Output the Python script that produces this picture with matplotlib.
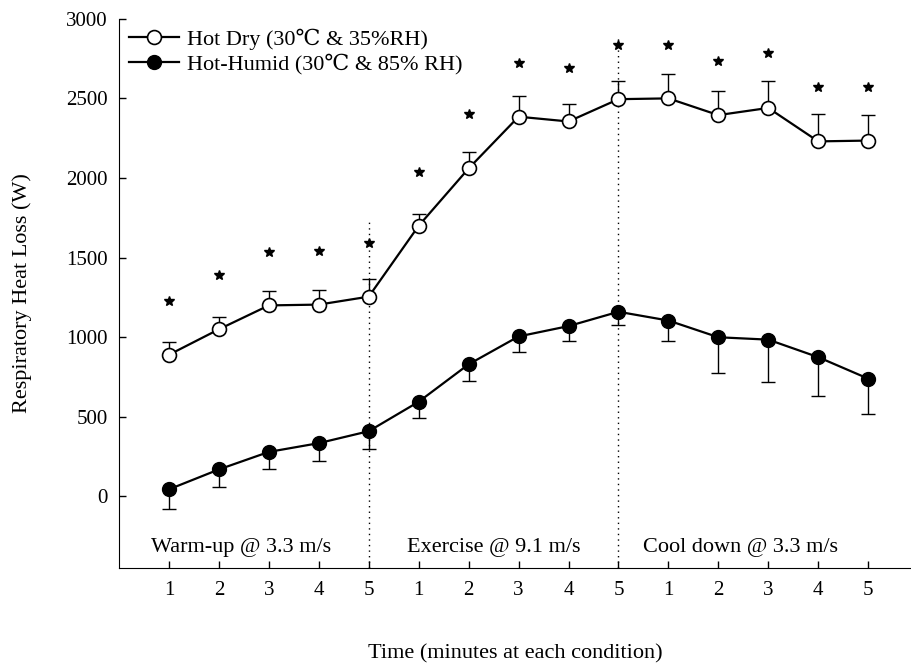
import numpy as np
import matplotlib.pyplot as plt

plt.rcParams['font.family'] = ['Liberation Serif', 'DejaVu Serif']

# Data
tick_labels = ['1', '2', '3', '4', '5'] * 3
hot_dry = [890, 1050, 1200, 1205, 1255, 1700, 2060, 2385, 2355, 2495,
           2500, 2395, 2440, 2230, 2235]
hot_dry_err = [80, 75, 90, 90, 110, 75, 105, 130, 110, 115,
               150, 150, 170, 175, 160]
hot_humid = [45, 170, 280, 335, 410, 595, 830, 1005, 1070, 1160,
             1105, 1000, 985, 875, 740]
hot_humid_err = [125, 113, 110, 110, 110, 100, 105, 95, 95, 80,
                 130, 225, 265, 245, 220]
star_y = [1225, 1390, 1535, 1540, 1590, 2040, 2400, 2720, 2690, 2835,
          2835, 2735, 2785, 2570, 2570]
phases = ['Warm-up @ 3.3 m/s', 'Exercise @ 9.1 m/s', 'Cool down @ 3.3 m/s']

x = np.arange(len(hot_dry))

fig = plt.figure(figsize=(9.12, 6.7), dpi=100)
ax = fig.add_axes([0.1305, 0.152, 0.868, 0.82])

# error bars (one-sided)
ax.errorbar(x, hot_dry, yerr=[np.zeros(len(x)), hot_dry_err], fmt='none',
            ecolor='black', elinewidth=1, capsize=5, capthick=1, zorder=2)
ax.errorbar(x, hot_humid, yerr=[hot_humid_err, np.zeros(len(x))], fmt='none',
            ecolor='black', elinewidth=1, capsize=5, capthick=1, zorder=2)

ax.plot(x, hot_dry, '-o', color='black', lw=1.6, ms=10, mfc='white',
        mec='black', mew=1.2, label='Hot Dry (30\u2103 & 35%RH)', zorder=3)
ax.plot(x, hot_humid, '-o', color='black', lw=1.6, ms=10, mfc='black',
        mec='black', label='Hot-Humid (30\u2103 & 85% RH)', zorder=3)

ax.plot(x, star_y, linestyle='none', marker='*', color='black', ms=7)

# phase separators
ax.plot([4, 4], [-450, 1750], ls=(0, (1, 3)), color='black', lw=1)
ax.plot([9, 9], [-450, 2880], ls=(0, (1, 3)), color='black', lw=1)

for px, name in zip([1.45, 6.5, 11.45], phases):
    ax.text(px, -320, name, ha='center', va='center', fontsize=16)

ax.set_xlim(-1, 14.85)
ax.set_ylim(-450, 3000)
ax.set_yticks(np.arange(0, 3001, 500))
ax.set_xticks(x)
ax.set_xticklabels(tick_labels)
ax.tick_params(direction='in', length=5, labelsize=15, width=1)
ax.tick_params(axis='x', pad=9)
ax.tick_params(axis='y', pad=8)

ax.spines['top'].set_visible(False)
ax.spines['right'].set_visible(False)

ax.set_ylabel('Respiratory Heat Loss (W)', fontsize=16)
ax.yaxis.set_label_coords(-0.110, 0.5)
ax.set_xlabel('Time (minutes at each condition)', fontsize=16)
ax.xaxis.set_label_coords(0.5, -0.138)

ax.legend(loc='upper left', frameon=False, fontsize=16, handlelength=2.25,
          borderaxespad=0.45, borderpad=0, handletextpad=0.35,
          labelspacing=0.18)

fig.savefig('out.png', dpi=100)
